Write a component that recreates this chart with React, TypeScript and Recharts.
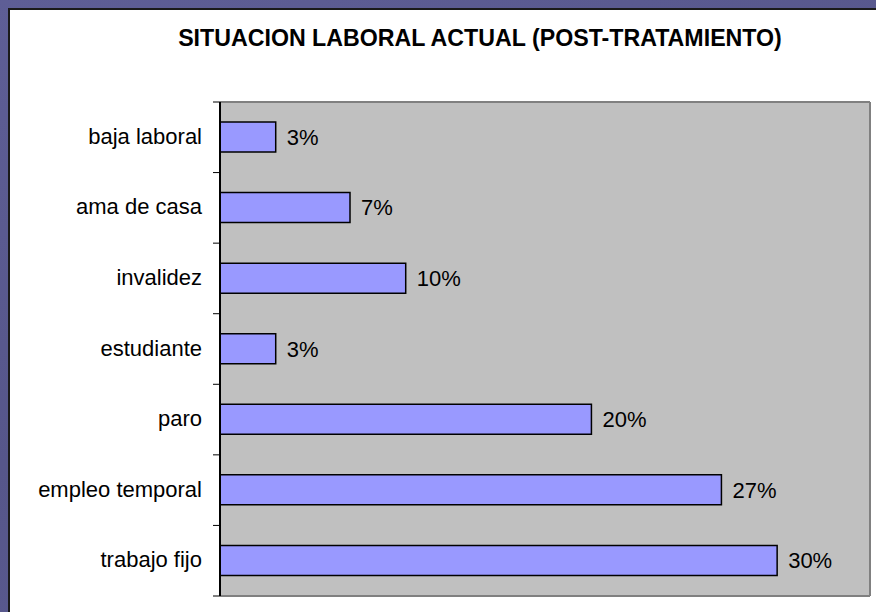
import React from 'react';
import { BarChart, Bar, XAxis, YAxis, CartesianGrid, LabelList } from 'recharts';

const categories = ['baja laboral', 'ama de casa', 'invalidez', 'estudiante', 'paro', 'empleo temporal', 'trabajo fijo'];
const percentages = [3, 7, 10, 3, 20, 27, 30];
const xDomain = [0, 35];

const data = categories.map((name, i) => ({ name, value: percentages[i] }));

const FONT = '"Liberation Sans", Arial, sans-serif';

const CategoryTick = (props: any) => {
  const { x, y, payload, index } = props;
  const half = payload && payload.offset ? payload.offset : 35;
  const lineStart = x + 11;
  const lineEnd = x + 18;
  return (
    <g>
      <line x1={lineStart} x2={lineEnd} y1={y - half} y2={y - half} stroke="#000" strokeWidth={1} />
      {index === categories.length - 1 && (
        <line x1={lineStart} x2={lineEnd} y1={y + half} y2={y + half} stroke="#000" strokeWidth={1} />
      )}
      <text x={x} y={y} dy="0.3em" textAnchor="end" fontSize={22} fontFamily={FONT} fill="#000">
        {payload.value}
      </text>
    </g>
  );
};

const App: React.FC = () => {
  return (
    <div
      style={{
        position: 'absolute',
        left: 0,
        top: 0,
        width: 876,
        height: 612,
        overflow: 'hidden',
        background: 'linear-gradient(160deg, #5e5e96 0%, #56568a 50%, #5c5c92 100%)',
      }}
    >
      <div
        style={{
          position: 'absolute',
          left: 8,
          top: 8,
          width: 880,
          height: 620,
          background: '#fff',
          borderLeft: '2px solid #1a1a1a',
          borderTop: '2px solid #1a1a1a',
        }}
      />
      <div
        style={{
          position: 'absolute',
          left: 0,
          top: 25,
          width: 960,
          textAlign: 'center',
          fontFamily: FONT,
          fontWeight: 'bold',
          fontSize: 23.2,
          color: '#000',
        }}
      >
        SITUACION LABORAL ACTUAL (POST-TRATAMIENTO)
      </div>
      <div style={{ position: 'absolute', left: 0, top: 0 }}>
        <BarChart
          width={876}
          height={612}
          data={data}
          layout="vertical"
          margin={{ top: 101, right: 5, bottom: 15, left: 0 }}
        >
          <CartesianGrid fill="#c0c0c0" stroke="none" horizontal={false} vertical={false} />
          <XAxis
            type="number"
            domain={xDomain}
            height={1}
            tick={false}
            tickLine={false}
            axisLine={{ stroke: '#808080', strokeWidth: 2 }}
          />
          <XAxis
            xAxisId="top"
            orientation="top"
            type="number"
            domain={xDomain}
            height={1}
            tick={false}
            tickLine={false}
            axisLine={{ stroke: '#808080', strokeWidth: 2 }}
          />
          <YAxis
            type="category"
            dataKey="name"
            width={220}
            tickSize={7}
            tickMargin={11}
            tickLine={false}
            axisLine={{ stroke: '#000', strokeWidth: 2 }}
            tick={<CategoryTick />}
            interval={0}
          />
          <YAxis
            yAxisId="right"
            orientation="right"
            type="category"
            dataKey="name"
            width={1}
            tick={false}
            tickLine={false}
            axisLine={{ stroke: '#808080', strokeWidth: 2 }}
          />
          <Bar
            dataKey="value"
            fill="#9999ff"
            stroke="#000"
            strokeWidth={1.5}
            barSize={30}
            isAnimationActive={false}
          >
            <LabelList
              dataKey="value"
              position="right"
              offset={11}
              fontSize={22}
              fontFamily={FONT}
              fill="#000"
              formatter={(v: any) => `${v}%`}
            />
          </Bar>
        </BarChart>
      </div>
    </div>
  );
};

export default App;
